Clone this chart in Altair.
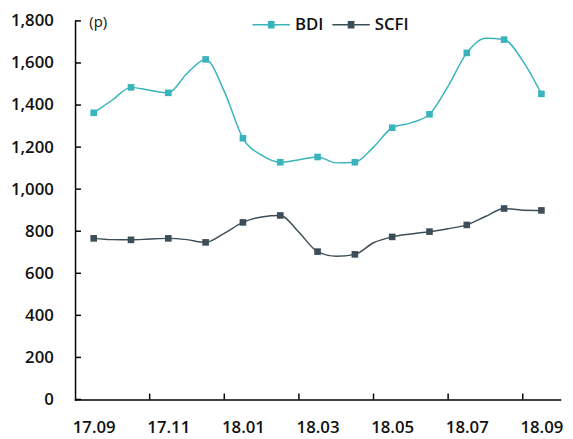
import altair as alt
import pandas as pd

# month labels (one per month, labels every 2 months)
months = ["17.09", "17.10", "17.11", "17.12", "18.01", "18.02", "18.03",
          "18.04", "18.05", "18.06", "18.07", "18.08", "18.09"]

# monthly marker values
bdi_monthly = [1363, 1484, 1458, 1617, 1242, 1128, 1153, 1128, 1292, 1356, 1648, 1711, 1453]
scfi_monthly = [766, 759, 766, 747, 842, 875, 703, 690, 773, 798, 830, 908, 899]

# half-month line values (t = 0, 0.5, 1, ... 12)
line_t = [i / 2 for i in range(25)]
bdi_line = [1363, 1424, 1484, 1470, 1458, 1550, 1617, 1465, 1242, 1162, 1128, 1140, 1153,
            1125, 1128, 1200, 1292, 1315, 1356, 1490, 1648, 1718, 1711, 1610, 1453]
scfi_line = [766, 760, 759, 763, 766, 760, 747, 790, 842, 868, 875, 795, 703,
             681, 690, 745, 773, 787, 798, 812, 830, 870, 908, 900, 899]

series = ["BDI", "SCFI"]
colors = ["#3ab4bc", "#3d4e59"]

y_ticks = [0, 200, 400, 600, 800, 1000, 1200, 1400, 1600, 1800]
x_label_vals = [0, 2, 4, 6, 8, 10, 12]
x_tick_vals = [1.5, 3.5, 5.5, 7.5, 9.5, 11.5]

W, H = 492, 384

line_df = pd.DataFrame({
    "t": line_t * 2,
    "value": bdi_line + scfi_line,
    "series": ["BDI"] * 25 + ["SCFI"] * 25,
})
pt_df = pd.DataFrame({
    "t": list(range(13)) * 2,
    "value": bdi_monthly + scfi_monthly,
    "series": ["BDI"] * 13 + ["SCFI"] * 13,
})

FONT = "Open Sans"
FW = 600

label_expr = "[" + ",".join('"%s"' % m for m in months) + "][round(datum.value)]"

x_scale = alt.Scale(domain=[-0.5, 12.5], nice=False, zero=False)
y_scale = alt.Scale(domain=[0, 1800], nice=False)

color_scale = alt.Scale(domain=series, range=colors)

x_enc = alt.X("t:Q", scale=x_scale,
              axis=alt.Axis(values=x_label_vals, labelExpr=label_expr, title=None,
                            ticks=False, grid=False, domainColor="#000000", domainWidth=1.5,
                            labelFont=FONT, labelFontSize=17, labelFontWeight=FW,
                            labelColor="#111111", labelPadding=21, labelFlush=False))
y_enc = alt.Y("value:Q", scale=y_scale,
              axis=alt.Axis(values=y_ticks, format=",d", title="(p)", titleAngle=0,
                            titleX=14, titleY=1, titleAlign="left", titleBaseline="middle",
                            titleFont=FONT, titleFontSize=15, titleFontWeight="normal",
                            titleColor="#111111",
                            ticks=False, grid=False, domainColor="#000000", domainWidth=1.5,
                            labelFont=FONT, labelFontSize=17, labelFontWeight=FW,
                            labelColor="#111111", labelPadding=22))

# legend symbol: a line with a small (hatched-filled) square in the middle
legend_symbol = ("M-1,0L1,0"
                 "M-0.18,-0.16L0.18,-0.16"
                 "M-0.18,-0.08L0.18,-0.08"
                 "M-0.18,0.08L0.18,0.08"
                 "M-0.18,0.16L0.18,0.16")

lines = alt.Chart(line_df).mark_line(interpolate="monotone", strokeWidth=1.5).encode(
    x=x_enc, y=y_enc,
    color=alt.Color("series:N", scale=color_scale,
                    legend=alt.Legend(title=None, orient="none", direction="horizontal",
                                      legendX=179, legendY=-16, symbolType=legend_symbol,
                                      symbolSize=1440, symbolStrokeWidth=1.5,
                                      labelFont=FONT, labelFontSize=17, labelFontWeight=FW,
                                      labelColor="#111111",
                                      labelOffset=4, columnPadding=6)),
)

points = alt.Chart(pt_df).mark_point(shape="square", filled=True, size=45, opacity=1).encode(
    x=alt.X("t:Q", scale=x_scale),
    y=alt.Y("value:Q", scale=y_scale),
    color=alt.Color("series:N", scale=color_scale, legend=None),
)

ytick_df = pd.DataFrame({"v": y_ticks})
yticks = alt.Chart(ytick_df).mark_rule(color="#000000", strokeWidth=1.5).encode(
    y=alt.Y("v:Q", scale=y_scale),
    x=alt.value(0), x2=alt.value(6),
)
xtick_df = pd.DataFrame({"v": x_tick_vals})
xticks = alt.Chart(xtick_df).mark_rule(color="#000000", strokeWidth=1.5).encode(
    x=alt.X("v:Q", scale=x_scale),
    y=alt.value(H), y2=alt.value(H - 6),
)

chart = alt.layer(lines, points, yticks, xticks).properties(
    width=W, height=H,
    autosize=alt.AutoSizeParams(type="none"),
    padding={"left": 68, "top": 10, "right": 5, "bottom": 37},
).configure_view(stroke=None).configure_axis(domainCap="square")

chart.save("out.html", embed_options={"renderer": "svg", "actions": False})
